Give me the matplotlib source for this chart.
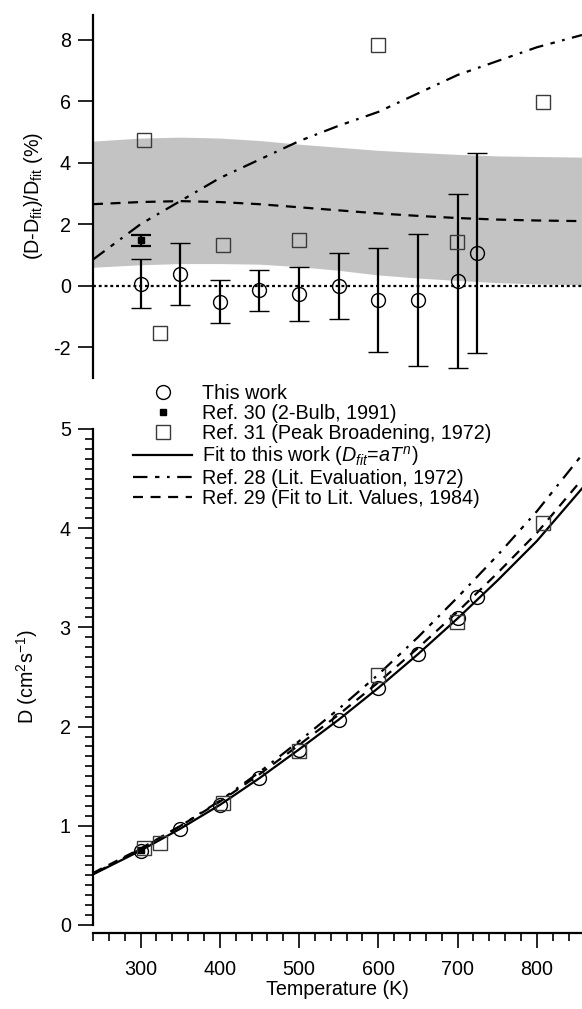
import numpy as np
import matplotlib
matplotlib.use("Agg")
import matplotlib.pyplot as plt
from matplotlib.lines import Line2D

plt.rcParams["font.family"] = ["Liberation Sans", "DejaVu Sans"]
plt.rcParams["mathtext.fontset"] = "custom"
plt.rcParams["mathtext.rm"] = "Liberation Sans"
plt.rcParams["mathtext.it"] = "Liberation Sans:italic"
plt.rcParams["axes.unicode_minus"] = False
FS = 14.2
plt.rcParams["font.size"] = FS

# ---- data ----
# temperature grid for the curves
curve_T = [240, 300, 350, 400, 450, 500, 550, 600, 650, 700, 750, 800, 857]

# top panel: deviations from fit (%)
band_hi = [4.70, 4.80, 4.83, 4.80, 4.72, 4.60, 4.50, 4.40, 4.33, 4.27, 4.22, 4.20, 4.18]
band_lo = [0.60, 0.68, 0.72, 0.72, 0.70, 0.62, 0.50, 0.35, 0.25, 0.17, 0.10, 0.06, 0.03]
dev_ref28 = [0.85, 2.0, 2.75, 3.5, 4.1, 4.7, 5.2, 5.65, 6.25, 6.85, 7.3, 7.75, 8.15]
dev_ref29 = [2.65, 2.72, 2.75, 2.72, 2.65, 2.55, 2.45, 2.35, 2.27, 2.20, 2.15, 2.12, 2.10]

work_T = [300, 350, 400, 450, 500, 550, 600, 650, 700, 724]
work_dev = [0.07, 0.39, -0.52, -0.15, -0.26, 0.0, -0.45, -0.48, 0.14, 1.06]
work_lo = [-0.72, -0.64, -1.2, -0.82, -1.16, -1.07, -2.14, -2.6, -2.68, -2.18]
work_hi = [0.87, 1.4, 0.17, 0.5, 0.62, 1.07, 1.24, 1.68, 2.97, 4.3]

ref31_T = [304, 325, 404, 500, 600, 699, 808]
ref31_dev = [4.75, -1.53, 1.33, 1.47, 7.83, 1.42, 5.96]

ref30_T = [300]
ref30_dev = [1.48]
ref30_lo = [1.30]
ref30_hi = [1.65]

# bottom panel: D (cm^2 s^-1)
fit_D = [0.51, 0.75, 0.97, 1.21, 1.48, 1.77, 2.07, 2.39, 2.73, 3.09, 3.47, 3.87, 4.40]
ref28_D = [0.514, 0.765, 0.997, 1.252, 1.541, 1.853, 2.178, 2.525, 2.901, 3.303, 3.723, 4.170, 4.74]
ref29_D = [0.524, 0.770, 0.997, 1.243, 1.519, 1.815, 2.121, 2.446, 2.792, 3.158, 3.545, 3.952, 4.492]

work_D = [0.75, 0.97, 1.21, 1.48, 1.76, 2.07, 2.39, 2.73, 3.09, 3.31]
ref31_D = [0.78, 0.83, 1.23, 1.75, 2.52, 3.05, 4.05]
ref30_D = [0.76]

W, H = 582, 1009
fig = plt.figure(figsize=(W / 100, H / 100), dpi=100)

def fbox(x0, y0, x1, y1):
    return [x0 / W, 1 - y1 / H, (x1 - x0) / W, (y1 - y0) / H]

xlim = (240, 857)
LW = 1.6
dash28 = (0, (6.5, 3.4, 2.0, 3.4, 1.2, 3.4))
dash29 = (0, (4.5, 3.4))
dots = (0, (1.3, 1.3))
sq_col = "#3a3a3a"

# ---- top panel ----
ax1 = fig.add_axes(fbox(93, 15, 582, 378))
ax1.fill_between(curve_T, band_lo, band_hi, color="#c3c3c3", lw=0, zorder=1)
ax1.axhline(0, color="black", lw=LW, ls=dots, zorder=2)
ax1.plot(curve_T, dev_ref28, color="black", lw=LW, ls=dash28, zorder=3)
ax1.plot(curve_T, dev_ref29, color="black", lw=LW, ls=dash29, zorder=3)

wd = np.array(work_dev)
yerr = [wd - np.array(work_lo), np.array(work_hi) - wd]
ax1.errorbar(work_T, work_dev, yerr=yerr, fmt="o", ms=10, mfc="none", mec="black",
             mew=1.0, ecolor="black", elinewidth=LW, capsize=7, capthick=LW, zorder=4)
rd = np.array(ref30_dev)
ax1.errorbar(ref30_T, ref30_dev, yerr=[rd - np.array(ref30_lo), np.array(ref30_hi) - rd],
             fmt="s", ms=4.5, color="black", elinewidth=LW, capsize=7, capthick=LW, zorder=4)
ax1.plot(ref31_T, ref31_dev, "s", ms=10, mfc="none", mec=sq_col, mew=1.0, zorder=5)

ax1.set_xlim(xlim)
ax1.set_ylim(-3, 8.8)
ax1.set_yticks([-2, 0, 2, 4, 6, 8])
for s in ["top", "right", "bottom"]:
    ax1.spines[s].set_visible(False)
ax1.spines["left"].set_linewidth(LW)
ax1.tick_params(axis="y", direction="out", length=11, width=1.2, pad=5, labelsize=FS)
ax1.set_xticks([])
ax1.set_ylabel(r"(D-D$_{\mathrm{fit}}$)/D$_{\mathrm{fit}}$ (%)", fontsize=FS, labelpad=6)
ax1.patch.set_alpha(0)

# ---- bottom panel ----
ax2 = fig.add_axes(fbox(93, 429, 582, 925))
ax2.plot(curve_T, ref28_D, color="black", lw=LW, ls=dash28, zorder=3)
ax2.plot(curve_T, ref29_D, color="black", lw=LW, ls=dash29, zorder=3)
ax2.plot(curve_T, fit_D, color="black", lw=LW, zorder=3)
ax2.plot(work_T, work_D, "o", ms=10, mfc="none", mec="black", mew=1.0, zorder=4)
ax2.plot(ref30_T, ref30_D, "s", ms=4.5, color="black", zorder=4)
ax2.plot(ref31_T, ref31_D, "s", ms=10, mfc="none", mec=sq_col, mew=1.0, zorder=5)

ax2.set_xlim(xlim)
ax2.set_ylim(0, 5)
ax2.set_xticks([300, 400, 500, 600, 700, 800])
ax2.set_xticks(np.arange(240, 858, 20), minor=True)
ax2.set_yticks([0, 1, 2, 3, 4, 5])
ax2.set_yticks(np.arange(0, 5.01, 0.1), minor=True)
for s in ["top", "right"]:
    ax2.spines[s].set_visible(False)
ax2.spines["left"].set_linewidth(LW)
ax2.spines["bottom"].set_linewidth(LW)
ax2.spines["bottom"].set_position(("outward", 6))
ax2.tick_params(axis="both", which="major", direction="out", length=11, width=1.2, labelsize=FS)
ax2.tick_params(axis="both", which="minor", direction="out", length=6, width=1.2)
ax2.tick_params(axis="x", which="major", pad=8)
ax2.tick_params(axis="y", which="major", pad=5)
ax2.set_xlabel("Temperature (K)", fontsize=FS, labelpad=1)
ax2.set_ylabel(r"D (cm$^2$s$^{-1}$)", fontsize=FS, labelpad=14)

handles = [
    Line2D([], [], ls="none", marker="o", ms=10, mfc="none", mec="black", mew=1.0),
    Line2D([], [], ls="none", marker="s", ms=4.5, color="black"),
    Line2D([], [], ls="none", marker="s", ms=10, mfc="none", mec=sq_col, mew=1.0),
    Line2D([], [], color="black", lw=LW),
    Line2D([], [], color="black", lw=LW, ls=dash28),
    Line2D([], [], color="black", lw=LW, ls=dash29),
]
labels = [
    "This work",
    "Ref. 30 (2-Bulb, 1991)",
    "Ref. 31 (Peak Broadening, 1972)",
    r"Fit to this work ($D_{fit}$=$aT^{n}$)",
    "Ref. 28 (Lit. Evaluation, 1972)",
    "Ref. 29 (Fit to Lit. Values, 1984)",
]
fig.legend(handles, labels, loc="upper left", bbox_to_anchor=(133 / W, 1 - 384 / H),
           frameon=False, fontsize=FS, handlelength=3.0, handletextpad=0.5,
           labelspacing=0.05, borderpad=0, borderaxespad=0)

fig.savefig("out.png", dpi=100)
